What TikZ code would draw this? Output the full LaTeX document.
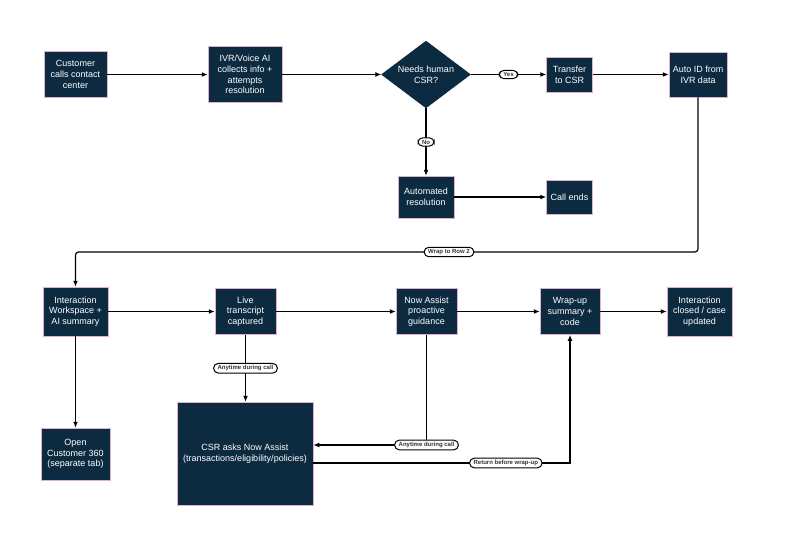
\documentclass[tikz,border=0pt]{standalone}
\usepackage{fontspec}
\setmainfont{Liberation Sans}
\usetikzlibrary{shapes.geometric,arrows.meta,calc}
\definecolor{navy}{HTML}{0D2B40}
\definecolor{pinkedge}{HTML}{E0B0CF}
\definecolor{pilltext}{HTML}{333333}
\tikzset{
  box/.style={draw=pinkedge, line width=0.5pt, fill=navy, text=white, align=center,
    font=\fontsize{9}{10.6}\selectfont, inner sep=1pt},
  dec/.style={diamond, draw=navy, fill=navy, text=white, align=center,
    font=\fontsize{9}{10.6}\selectfont, inner sep=0pt, aspect=1.33,
    minimum width=89pt, minimum height=67pt},
  arr/.style={draw=black, line width=1.2pt, -{Latex[length=6pt,width=5pt]}},
  pill/.style={draw=black, line width=1pt, fill=white, text=pilltext, rounded corners=4.5pt,
    font=\fontsize{6}{6.5}\selectfont\bfseries, inner xsep=4pt, inner ysep=2pt}
}
\begin{document}
\begin{tikzpicture}[x=1pt,y=-1pt]
\fill[white] (0,0) rectangle (800,546);
\useasboundingbox (0,0) rectangle (800,546);
% row 1
\node[box, minimum width=63pt, minimum height=46pt] (c1) at (75.5,74.5) {Customer\\calls contact\\center};
\node[box, minimum width=74pt, minimum height=56pt] (ivr) at (245,74.5) {IVR/Voice AI\\collects info +\\attempts\\resolution};
\node[dec] (dia) at (426,74.5) {Needs human\\CSR?};
\node[box, minimum width=46pt, minimum height=35pt] (tr) at (569.5,74.5) {Transfer\\to CSR};
\node[box, minimum width=58pt, minimum height=45pt] (aid) at (698,74.5) {Auto ID from\\IVR data};
\node[box, minimum width=56pt, minimum height=42pt] (ares) at (426,197) {Automated\\resolution};
\node[box, minimum width=46pt, minimum height=34pt] (cend) at (569.5,197) {Call ends};
% row 2
\node[box, minimum width=65pt, minimum height=49pt] (iw) at (75.5,311.5) {Interaction\\Workspace +\\AI summary};
\node[box, minimum width=61pt, minimum height=46pt] (live) at (245.5,311.5) {Live\\transcript\\captured};
\node[box, minimum width=61pt, minimum height=46pt] (now) at (426.5,311.5) {Now Assist\\proactive\\guidance};
\node[box, minimum width=60pt, minimum height=46pt] (wrap) at (570,311.5) {Wrap-up\\summary +\\code};
\node[box, minimum width=65pt, minimum height=49pt] (closed) at (699.5,311.5) {Interaction\\closed / case\\updated};
\node[box, minimum width=69pt, minimum height=52pt] (c360) at (75.5,454) {Open\\Customer 360\\(separate tab)};
\node[box, minimum width=136pt, minimum height=103pt] (csr) at (245,453.5) {CSR asks Now Assist\\(transactions/eligibility/policies)};
% connectors row 1
\draw[arr] (c1.east) -- (c1.east -| ivr.west);
\draw[arr] (ivr.east) -- (ivr.east -| dia.west);
\draw[arr] (dia.east) -- node[pill]{Yes} (dia.east -| tr.west);
\draw[arr] (tr.east) -- (tr.east -| aid.west);
\draw[arr] (dia.south) -- node[pill]{No} (ares.north);
\draw[arr] (ares.east) -- (ares.east -| cend.west);
% wrap
\coordinate (wy) at (0,252);
\draw[arr, rounded corners=3pt] (aid.south) -- (aid.south |- wy) -| node[pill, pos=0.2]{Wrap to Row 2} (iw.north);
% connectors row 2
\draw[arr] (iw.east) -- (iw.east -| live.west);
\draw[arr] (live.east) -- (live.east -| now.west);
\draw[arr] (now.east) -- (now.east -| wrap.west);
\draw[arr] (wrap.east) -- (wrap.east -| closed.west);
\draw[arr] (iw.south) -- (c360.north);
\draw[arr] (live.south) -- node[pill]{Anytime during call} (live.south |- csr.north);
\coordinate (ay) at (0,445);
\coordinate (ry) at (0,463);
\draw[arr] (now.south) |- node[pill]{Anytime during call} (csr.east |- ay);
\draw[arr] (csr.east |- ry) -| node[pill, pos=0.375]{Return before wrap-up} (wrap.south);
\end{tikzpicture}
\end{document}
